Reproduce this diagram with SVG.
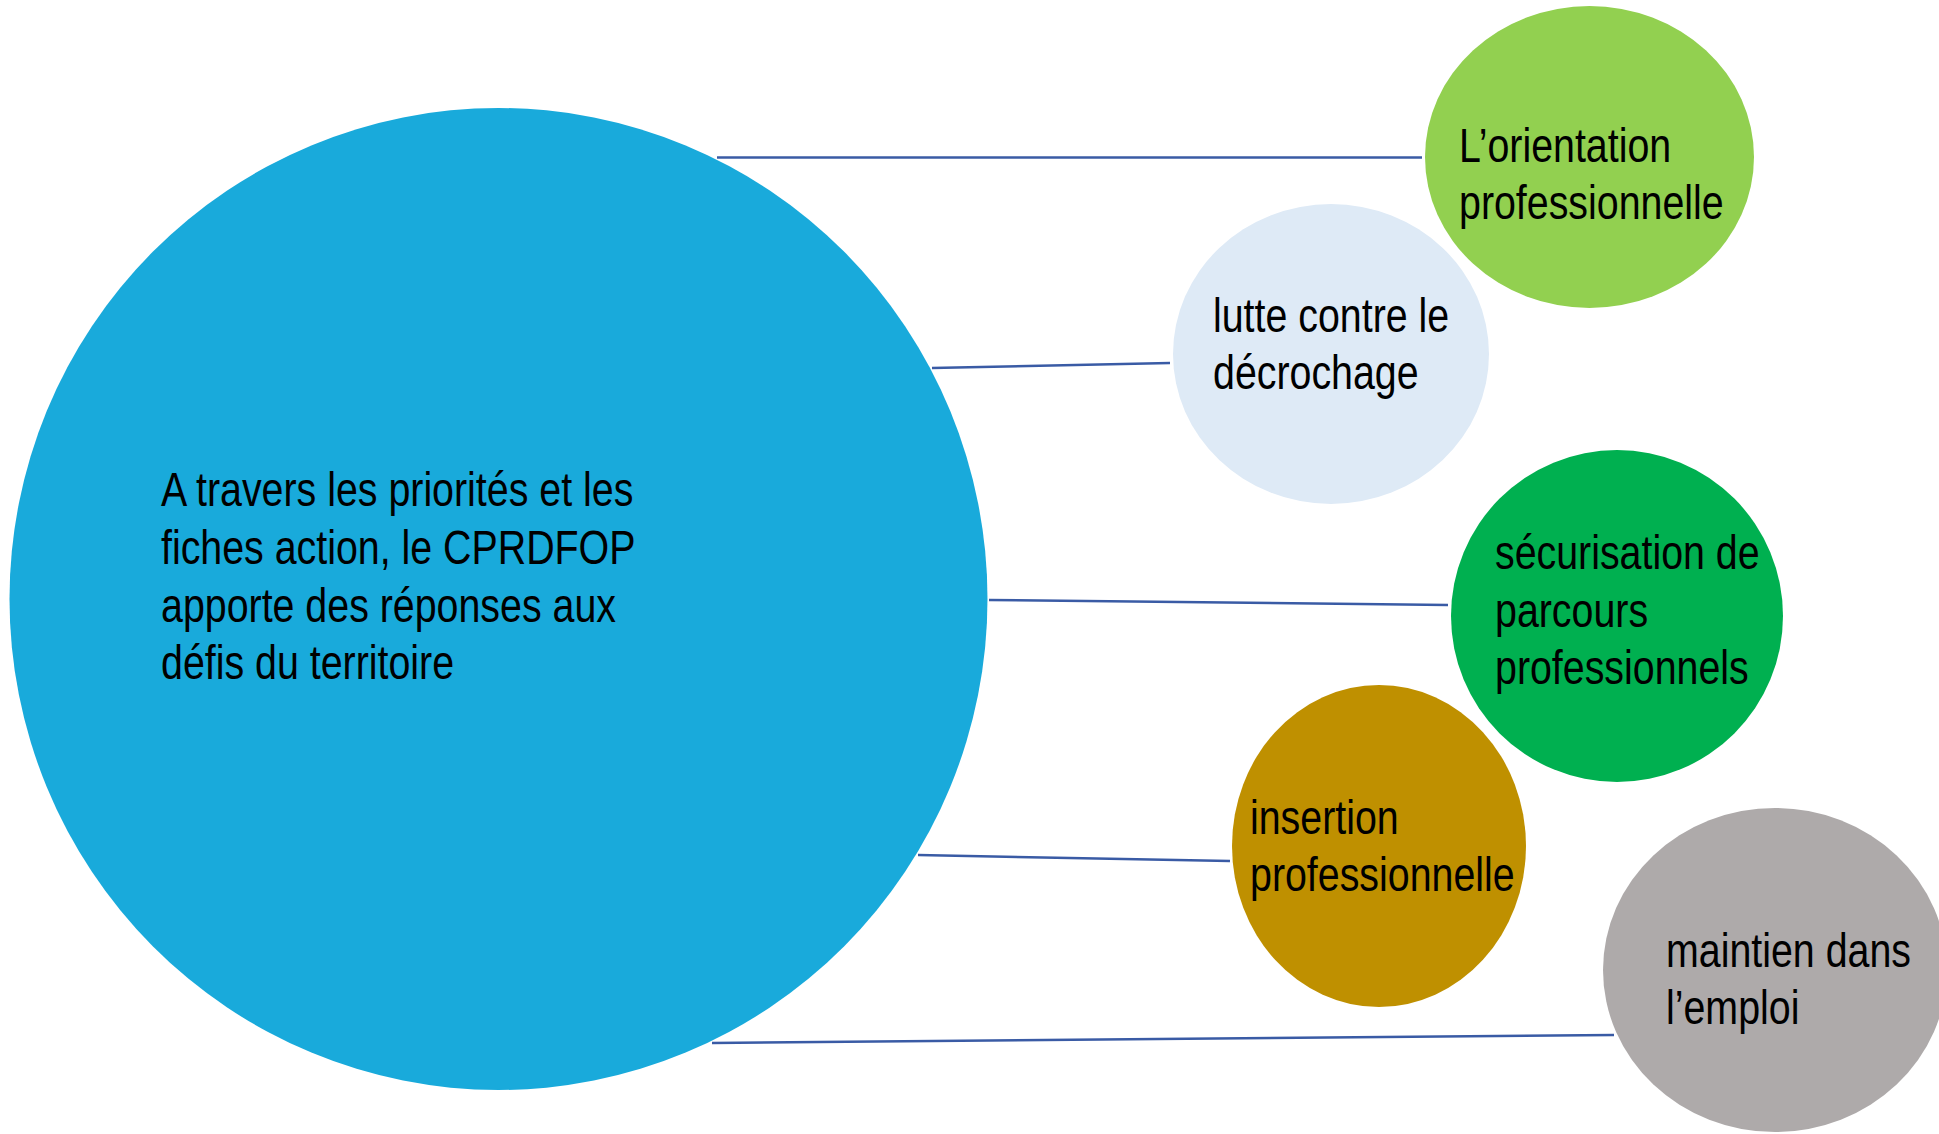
<svg xmlns="http://www.w3.org/2000/svg" width="1939" height="1134" viewBox="0 0 1939 1134">
  <style>
    .lbl { font-family: "Liberation Sans", Arial, sans-serif; font-size: 48px; fill: #000000; }
    .conn { stroke: #3A5BA5; stroke-width: 2.5; fill: none; }
  </style>
  <rect x="0" y="0" width="1939" height="1134" fill="#FFFFFF"/>
  <g id="connectors">
    <line class="conn" x1="717" y1="157.5" x2="1422" y2="157.5"/>
    <line class="conn" x1="932" y1="368" x2="1170" y2="363"/>
    <line class="conn" x1="989" y1="600" x2="1448" y2="605"/>
    <line class="conn" x1="918" y1="855" x2="1230" y2="861"/>
    <line class="conn" x1="712" y1="1043" x2="1614" y2="1035"/>
  </g>
  <g id="node-main">
    <ellipse cx="498.5" cy="599" rx="489" ry="491" fill="#19AADB"/>
    <text class="lbl" transform="translate(161,506) scale(0.82,1)">
      <tspan x="0" y="0">A travers les priorités et les</tspan>
      <tspan x="0" y="58">fiches action, le CPRDFOP</tspan>
      <tspan x="0" y="116">apporte des réponses aux</tspan>
      <tspan x="0" y="173">défis du territoire</tspan>
    </text>
  </g>
  <g id="node-orientation">
    <ellipse cx="1589.5" cy="157" rx="164.5" ry="151" fill="#92D050"/>
    <text class="lbl" transform="translate(1459,162) scale(0.82,1)">
      <tspan x="0" y="0">L’orientation</tspan>
      <tspan x="0" y="57">professionnelle</tspan>
    </text>
  </g>
  <g id="node-decrochage">
    <ellipse cx="1331" cy="354" rx="158" ry="150" fill="#DEEAF6"/>
    <text class="lbl" transform="translate(1213,332) scale(0.82,1)">
      <tspan x="0" y="0">lutte contre le</tspan>
      <tspan x="0" y="57">décrochage</tspan>
    </text>
  </g>
  <g id="node-securisation">
    <ellipse cx="1617" cy="616" rx="166" ry="166" fill="#00B050"/>
    <text class="lbl" transform="translate(1495,569) scale(0.82,1)">
      <tspan x="0" y="0">sécurisation de</tspan>
      <tspan x="0" y="58">parcours</tspan>
      <tspan x="0" y="115">professionnels</tspan>
    </text>
  </g>
  <g id="node-insertion">
    <ellipse cx="1379" cy="846" rx="147" ry="161" fill="#BF9000"/>
    <text class="lbl" transform="translate(1250,834) scale(0.82,1)">
      <tspan x="0" y="0">insertion</tspan>
      <tspan x="0" y="57">professionnelle</tspan>
    </text>
  </g>
  <g id="node-maintien">
    <ellipse cx="1775" cy="970" rx="172" ry="162" fill="#AEAAAA"/>
    <text class="lbl" transform="translate(1666,967) scale(0.82,1)">
      <tspan x="0" y="0">maintien dans</tspan>
      <tspan x="0" y="57">l’emploi</tspan>
    </text>
  </g>
</svg>
